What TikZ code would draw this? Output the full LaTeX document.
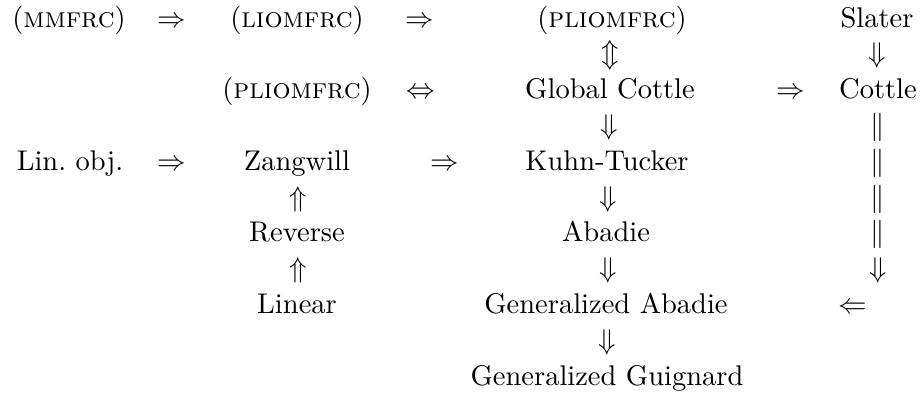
\documentclass[tikz,border=0pt]{standalone}
\begin{document}
\begin{tikzpicture}[x=0.351pt,y=-0.351pt,
  lbl/.style={inner sep=0pt,anchor=base},
  sym/.style={inner sep=0pt,anchor=base}]
\useasboundingbox (0,0) rectangle (920,396);
% row 1
\node[lbl] (mmfrc) at (69,27) {(\textsc{mmfrc})};
\node[sym] (a11) at (172,27) {$\Rightarrow$};
\node[lbl] (liomfrc) at (297,27) {(\textsc{liomfrc})};
\node[sym] (a12) at (420,27) {$\Rightarrow$};
\node[lbl] (pliomA) at (612,27) {(\textsc{pliomfrc})};
\node[lbl] (slater) at (877,27) {Slater};
% row 2
\node[sym] (a21) at (610,62.8) {$\Updownarrow$};
\node[sym] (a22) at (877,62.8) {$\Downarrow$};
% row 3
\node[lbl] (pliomB) at (297,98.6) {(\textsc{pliomfrc})};
\node[sym] (a31) at (421,98.6) {$\Leftrightarrow$};
\node[lbl] (gcottle) at (610,98.6) {Global Cottle};
\node[sym] (a32) at (791,98.6) {$\Rightarrow$};
\node[lbl] (cottle) at (878,98.6) {Cottle};
% row 4
\node[sym] (a41) at (609,134.4) {$\Downarrow$};
\node[sym] (a42) at (878,134.4) {$\|$};
% row 5
\node[lbl] (linobj) at (70,170.2) {Lin.\ obj.};
\node[sym] (a51) at (172,170.2) {$\Rightarrow$};
\node[lbl] (zang) at (297,170.2) {Zangwill};
\node[sym] (a52) at (445,170.2) {$\Rightarrow$};
\node[lbl] (kt) at (607,170.2) {Kuhn-Tucker};
\node[sym] (a53) at (878,170.2) {$\|$};
% row 6
\node[sym] (a61) at (298,206) {$\Uparrow$};
\node[sym] (a62) at (608,206) {$\Downarrow$};
\node[sym] (a63) at (878,206) {$\|$};
% row 7
\node[lbl] (rev) at (297,241.8) {Reverse};
\node[lbl] (abadie) at (606,241.8) {Abadie};
\node[sym] (a71) at (878,241.8) {$\|$};
% row 8
\node[sym] (a81) at (298,277.6) {$\Uparrow$};
\node[sym] (a82) at (608,277.6) {$\Downarrow$};
\node[sym] (a83) at (878,277.6) {$\Downarrow$};
% row 9
\node[lbl] (linear) at (297,313.4) {Linear};
\node[lbl] (gabadie) at (606,313.4) {Generalized Abadie};
\node[sym] (a91) at (853,313.4) {$\Leftarrow$};
% row 10
\node[sym] (a101) at (607,349.2) {$\Downarrow$};
% row 11
\node[lbl] (gguig) at (607,385) {Generalized Guignard};
\end{tikzpicture}
\end{document}
